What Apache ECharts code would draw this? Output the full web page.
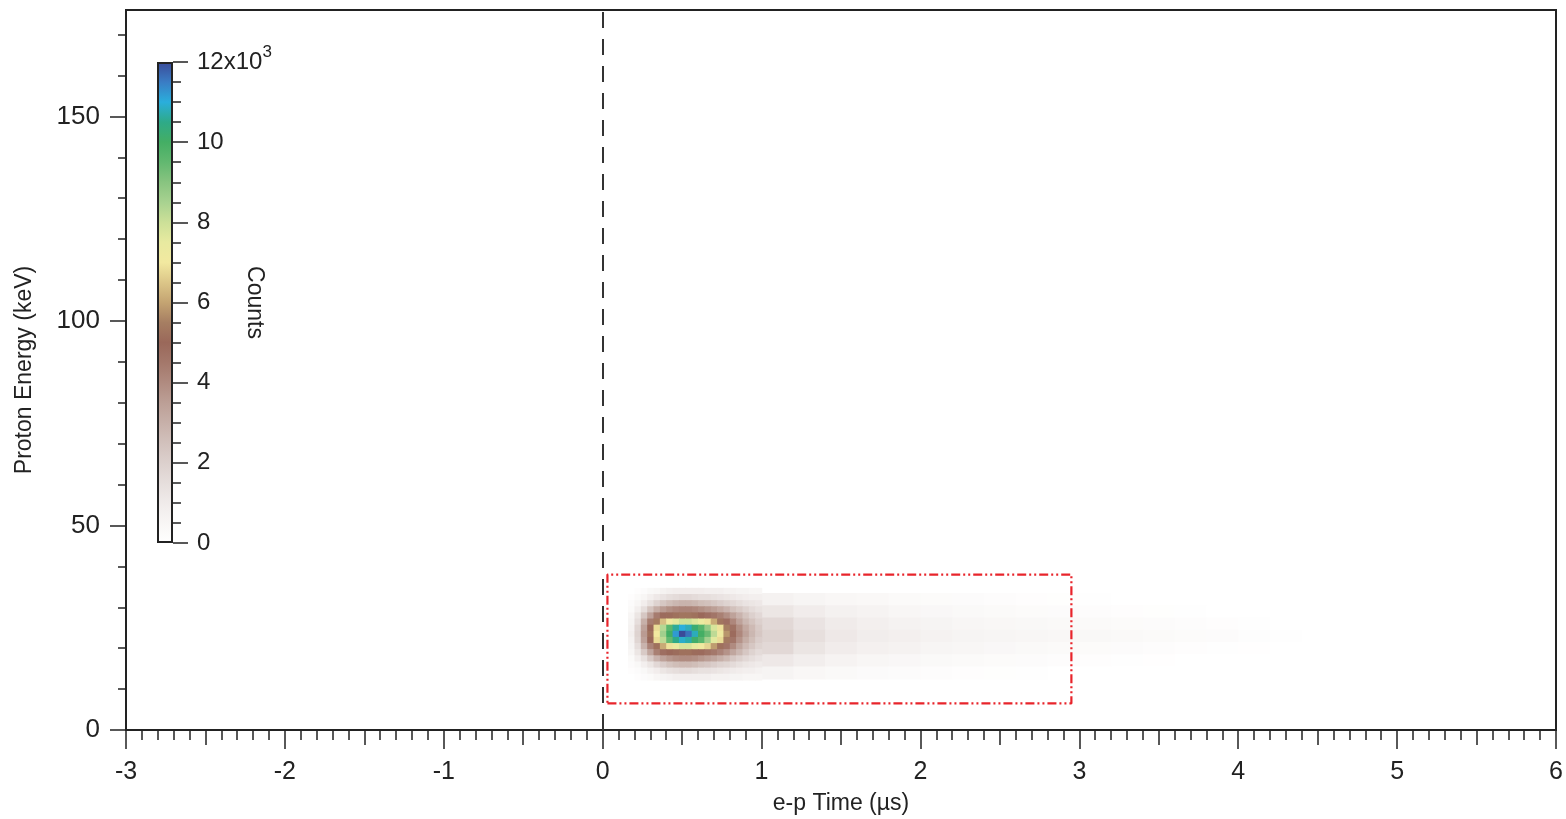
<!DOCTYPE html>
<html>

<head>
    <meta charset="utf-8" />
    <title>ECharts</title>
    <script src="https://cdn.jsdelivr.net/npm/echarts@6.0.0/dist/echarts.min.js"></script>
</head>

<body style="margin:0">
    <style>
        #main {
            width: 1566px;
            height: 819px;
        }
    </style>
    <div id="main"></div>
    <script type="text/javascript">
        // counts are in units of 10^3
        var coreTime = [0.18, 0.22, 0.26, 0.30, 0.34, 0.38, 0.42, 0.46, 0.50, 0.54, 0.58,
            0.62, 0.66, 0.70, 0.74, 0.78, 0.82, 0.86, 0.90, 0.94, 0.98];
        var coreEnergy = [34, 32.5, 31, 29.5, 28, 26.5, 25, 23.5, 22, 20.5, 19, 17.5, 16, 14.5, 13];
        var coreCounts = [
            [0, 0.1, 0.2, 0.4, 0.5, 0.7, 0.8, 0.9, 0.9, 0.9, 0.9, 0.9, 0.8, 0.8, 0.8, 0.7, 0.7, 0.6, 0.6, 0.5, 0.5],
            [0.1, 0.3, 0.5, 0.8, 1.1, 1.3, 1.5, 1.6, 1.7, 1.7, 1.6, 1.5, 1.5, 1.4, 1.3, 1.2, 1.1, 1.0, 0.9, 0.8, 0.8],
            [0.2, 0.5, 0.9, 1.4, 1.9, 2.3, 2.6, 2.8, 2.9, 2.9, 2.8, 2.6, 2.5, 2.3, 2.1, 1.9, 1.7, 1.5, 1.3, 1.2, 1.1],
            [0.3, 0.8, 1.5, 2.4, 3.1, 3.6, 3.9, 4.1, 4.2, 4.2, 4.1, 3.9, 3.7, 3.5, 3.2, 2.9, 2.5, 2.2, 1.9, 1.6, 1.4],
            [0.5, 1.2, 2.3, 3.4, 4.4, 4.9, 5.1, 5.2, 5.3, 5.3, 5.2, 5.0, 4.8, 4.6, 4.3, 3.9, 3.4, 2.9, 2.4, 2.0, 1.7],
            [0.6, 1.5, 3.0, 4.4, 5.4, 6.4, 7.1, 7.6, 8.0, 8.0, 7.7, 7.3, 6.9, 6.1, 5.3, 4.8, 4.1, 3.4, 2.8, 2.4, 2.0],
            [0.7, 1.8, 3.4, 5.0, 6.8, 8.3, 9.6, 10.6, 11.0, 10.8, 10.2, 9.7, 8.8, 7.8, 6.9, 5.5, 4.7, 3.9, 3.2, 2.7, 2.2],
            [0.8, 1.9, 3.6, 5.2, 7.0, 8.6, 10.0, 11.2, 12.0, 11.6, 10.8, 10.0, 9.4, 8.2, 7.2, 5.8, 4.9, 4.1, 3.4, 2.8, 2.3],
            [0.7, 1.8, 3.4, 5.0, 6.8, 8.2, 9.5, 10.5, 10.9, 10.7, 10.1, 9.6, 8.6, 7.6, 6.8, 5.4, 4.6, 3.8, 3.1, 2.6, 2.1],
            [0.6, 1.5, 2.9, 4.2, 5.2, 6.1, 6.9, 7.4, 7.8, 7.8, 7.5, 7.1, 6.7, 5.9, 5.2, 4.6, 4.0, 3.3, 2.7, 2.3, 1.9],
            [0.5, 1.2, 2.2, 3.3, 4.3, 4.8, 5.0, 5.1, 5.2, 5.2, 5.1, 4.9, 4.7, 4.5, 4.2, 3.8, 3.3, 2.8, 2.3, 1.9, 1.6],
            [0.3, 0.8, 1.4, 2.2, 2.9, 3.4, 3.7, 3.9, 4.0, 4.0, 3.9, 3.7, 3.5, 3.3, 3.0, 2.7, 2.3, 2.0, 1.7, 1.5, 1.3],
            [0.2, 0.4, 0.8, 1.2, 1.7, 2.1, 2.4, 2.6, 2.7, 2.7, 2.6, 2.4, 2.3, 2.1, 1.9, 1.8, 1.6, 1.4, 1.2, 1.1, 1.0],
            [0.1, 0.2, 0.4, 0.7, 0.9, 1.2, 1.4, 1.5, 1.6, 1.6, 1.5, 1.4, 1.4, 1.3, 1.2, 1.1, 1.0, 0.9, 0.8, 0.8, 0.7],
            [0, 0.1, 0.2, 0.3, 0.5, 0.6, 0.7, 0.8, 0.8, 0.8, 0.8, 0.8, 0.8, 0.7, 0.7, 0.7, 0.6, 0.6, 0.5, 0.5, 0.5]
        ];

        var tailTime = [1.1, 1.3, 1.5, 1.7, 1.9, 2.1, 2.3, 2.5, 2.7, 2.9, 3.1, 3.3, 3.5, 3.7, 3.9, 4.1, 4.3];
        var tailEnergy = [32, 29, 26, 23, 20, 17, 14];
        var tailCounts = [
            [0.7, 0.55, 0.45, 0.38, 0.3, 0.25, 0.2, 0.15, 0.1, 0.08, 0.05, 0, 0, 0, 0, 0, 0],
            [1.2, 0.95, 0.75, 0.62, 0.52, 0.42, 0.36, 0.3, 0.25, 0.2, 0.15, 0.1, 0.08, 0.05, 0, 0, 0],
            [1.7, 1.3, 1.0, 0.82, 0.7, 0.6, 0.5, 0.45, 0.4, 0.35, 0.3, 0.25, 0.2, 0.15, 0.1, 0.05, 0],
            [1.9, 1.45, 1.12, 0.92, 0.8, 0.7, 0.6, 0.55, 0.5, 0.45, 0.4, 0.35, 0.3, 0.25, 0.2, 0.12, 0.06],
            [1.7, 1.25, 0.95, 0.78, 0.66, 0.55, 0.48, 0.42, 0.36, 0.3, 0.25, 0.2, 0.15, 0.1, 0.06, 0.03, 0],
            [1.1, 0.85, 0.65, 0.52, 0.42, 0.35, 0.3, 0.25, 0.2, 0.15, 0.1, 0.06, 0.03, 0, 0, 0, 0],
            [0.6, 0.45, 0.34, 0.26, 0.2, 0.15, 0.1, 0.08, 0.05, 0, 0, 0, 0, 0, 0, 0, 0]
        ];

        var gateTime = [0.03, 2.95];
        var gateEnergy = [6.5, 38];
        var refTime = [0];
        var countsMax = [12];

        var FONT = 'Liberation Sans, Arial, sans-serif';
        var INK = '#222';
        var PALETTE = ['#ffffff', '#f8f6f5', '#f0ebea', '#e6dedc', '#dcd0cd', '#d2c1bc', '#c7b0a9',
            '#bc9f96', '#b08b80', '#a4786b', '#9a685a', '#a67e62', '#c4a472', '#dcc688', '#f2e9a0',
            '#e8eaa0', '#cce098', '#a8d290', '#88c480', '#62b870', '#44ae64', '#2eaa88', '#2aaedc',
            '#3a7cc4', '#3a4a98'];

        function cells(xs, ys, grid) {
            var out = [];
            ys.forEach(function (y, r) {
                xs.forEach(function (x, c) {
                    out.push([x, y, grid[r][c]]);
                });
            });
            return out;
        }

        function cellRenderer(dx, dy) {
            return function (params, api) {
                var x = api.value(0), y = api.value(1);
                var a = api.coord([x - dx / 2, y + dy / 2]);
                var b = api.coord([x + dx / 2, y - dy / 2]);
                return {
                    type: 'rect',
                    shape: { x: a[0], y: a[1], width: b[0] - a[0] + 0.7, height: b[1] - a[1] + 0.7 },
                    style: { fill: api.visual('color') }
                };
            };
        }

        var gatePath = [
            [gateTime[0], gateEnergy[0]], [gateTime[1], gateEnergy[0]],
            [gateTime[1], gateEnergy[1]], [gateTime[0], gateEnergy[1]],
            [gateTime[0], gateEnergy[0]]
        ];

        var stops = PALETTE.map(function (c, i) {
            return { offset: i / (PALETTE.length - 1), color: c };
        });

        var myChart = echarts.init(document.getElementById('main'));
        var option = {
            animation: false,
            backgroundColor: '#fff',
            grid: [
                { left: 126, right: 10, top: 10, bottom: 89, outerBoundsMode: 'none', show: true, borderColor: INK, borderWidth: 2 },
                { left: 126, right: 10, top: -88.2, bottom: 89, outerBoundsMode: 'none' },
                { left: 157, top: 62, width: 16, height: 481, outerBoundsMode: 'none' }
            ],
            visualMap: {
                type: 'continuous',
                show: false,
                min: 0,
                max: 12,
                dimension: 2,
                seriesIndex: [0, 1],
                inRange: { color: PALETTE }
            },
            xAxis: [
                {
                    gridIndex: 0, type: 'value', min: -3, max: 6, interval: 1, position: 'bottom',
                    name: 'e-p Time (µs)', nameLocation: 'middle', nameGap: 62, nameMoveOverlap: false,
                    nameTextStyle: { fontSize: 23, color: INK, fontFamily: FONT },
                    axisLine: { show: true, onZero: false, lineStyle: { color: INK, width: 2 } },
                    axisTick: { show: true, length: 19, lineStyle: { color: INK, width: 1.5 } },
                    minorTick: { show: true, splitNumber: 10, length: 10, lineStyle: { color: INK, width: 1.5 } },
                    axisLabel: { margin: 30, fontSize: 25, color: INK, fontFamily: FONT },
                    splitLine: { show: false }
                },
                {
                    gridIndex: 0, type: 'value', min: -3, max: 6, interval: 0.5, position: 'bottom',
                    axisLine: { show: false, onZero: false },
                    axisTick: { show: true, length: 15, lineStyle: { color: INK, width: 1.5 } },
                    axisLabel: { show: false },
                    splitLine: { show: false }
                },
                { gridIndex: 1, type: 'value', min: -3, max: 6, show: false },
                { gridIndex: 2, type: 'category', data: [''], show: false }
            ],
            yAxis: [
                {
                    gridIndex: 0, type: 'value', min: 0, max: 176,
                    name: 'Proton Energy (keV)', nameLocation: 'middle', nameGap: 90, nameMoveOverlap: false,
                    nameTextStyle: { fontSize: 23, color: INK, fontFamily: FONT },
                    axisLine: { show: true, onZero: false, lineStyle: { color: INK, width: 2 } },
                    axisTick: { show: false },
                    axisLabel: { show: false },
                    splitLine: { show: false }
                },
                {
                    gridIndex: 1, type: 'value', min: 0, max: 200, interval: 50,
                    axisLine: { show: false, onZero: false },
                    axisTick: { show: true, length: 16, lineStyle: { color: INK, width: 1.5 } },
                    minorTick: { show: true, splitNumber: 5, length: 8, lineStyle: { color: INK, width: 1.5 } },
                    axisLabel: { margin: 26, fontSize: 26, color: INK, fontFamily: FONT },
                    splitLine: { show: false }
                },
                {
                    gridIndex: 2, type: 'value', min: 0, max: countsMax[0], interval: 2, position: 'right',
                    name: 'Counts', nameLocation: 'middle', nameRotate: -90, nameGap: 70, nameMoveOverlap: false,
                    nameTextStyle: { fontSize: 23, color: INK, fontFamily: FONT },
                    axisLine: { show: false, onZero: false },
                    axisTick: { show: true, length: 15, lineStyle: { color: INK, width: 1.5 } },
                    minorTick: { show: true, splitNumber: 4, length: 8, lineStyle: { color: INK, width: 1.5 } },
                    axisLabel: {
                        margin: 24,
                        formatter: function (v) {
                            return v === countsMax[0] ? '{m|' + v + 'x10}{s|3}' : '{m|' + v + '}';
                        },
                        rich: {
                            m: { fontSize: 24, color: INK, fontFamily: FONT, lineHeight: 24 },
                            s: { fontSize: 17, color: INK, fontFamily: FONT, lineHeight: 17, padding: [0, 0, 20, 0] }
                        }
                    },
                    splitLine: { show: false }
                }
            ],
            series: [
                {
                    type: 'custom',
                    xAxisIndex: 0, yAxisIndex: 0,
                    renderItem: cellRenderer(0.04, 1.5),
                    encode: { x: 0, y: 1 },
                    data: cells(coreTime, coreEnergy, coreCounts),
                    z: 2
                },
                {
                    type: 'custom',
                    xAxisIndex: 0, yAxisIndex: 0,
                    renderItem: cellRenderer(0.2, 3),
                    encode: { x: 0, y: 1 },
                    data: cells(tailTime, tailEnergy, tailCounts),
                    z: 1
                },
                {
                    type: 'line',
                    xAxisIndex: 0, yAxisIndex: 0,
                    data: gatePath,
                    showSymbol: false,
                    symbol: 'none',
                    lineStyle: { color: '#e8242b', width: 2.2, type: [9, 3, 2, 3, 2, 3] },
                    z: 5,
                    markLine: {
                        silent: true,
                        symbol: 'none',
                        label: { show: false },
                        lineStyle: { color: '#333', width: 2, type: [16, 11] },
                        data: refTime.map(function (t) { return { xAxis: t }; })
                    }
                },
                {
                    type: 'bar',
                    xAxisIndex: 3, yAxisIndex: 2,
                    data: countsMax,
                    barWidth: '100%',
                    itemStyle: {
                        color: new echarts.graphic.LinearGradient(0, 1, 0, 0, stops),
                        borderColor: INK,
                        borderWidth: 2
                    },
                    silent: true
                }
            ]
        };
        myChart.setOption(option);
    </script>
</body>

</html>
